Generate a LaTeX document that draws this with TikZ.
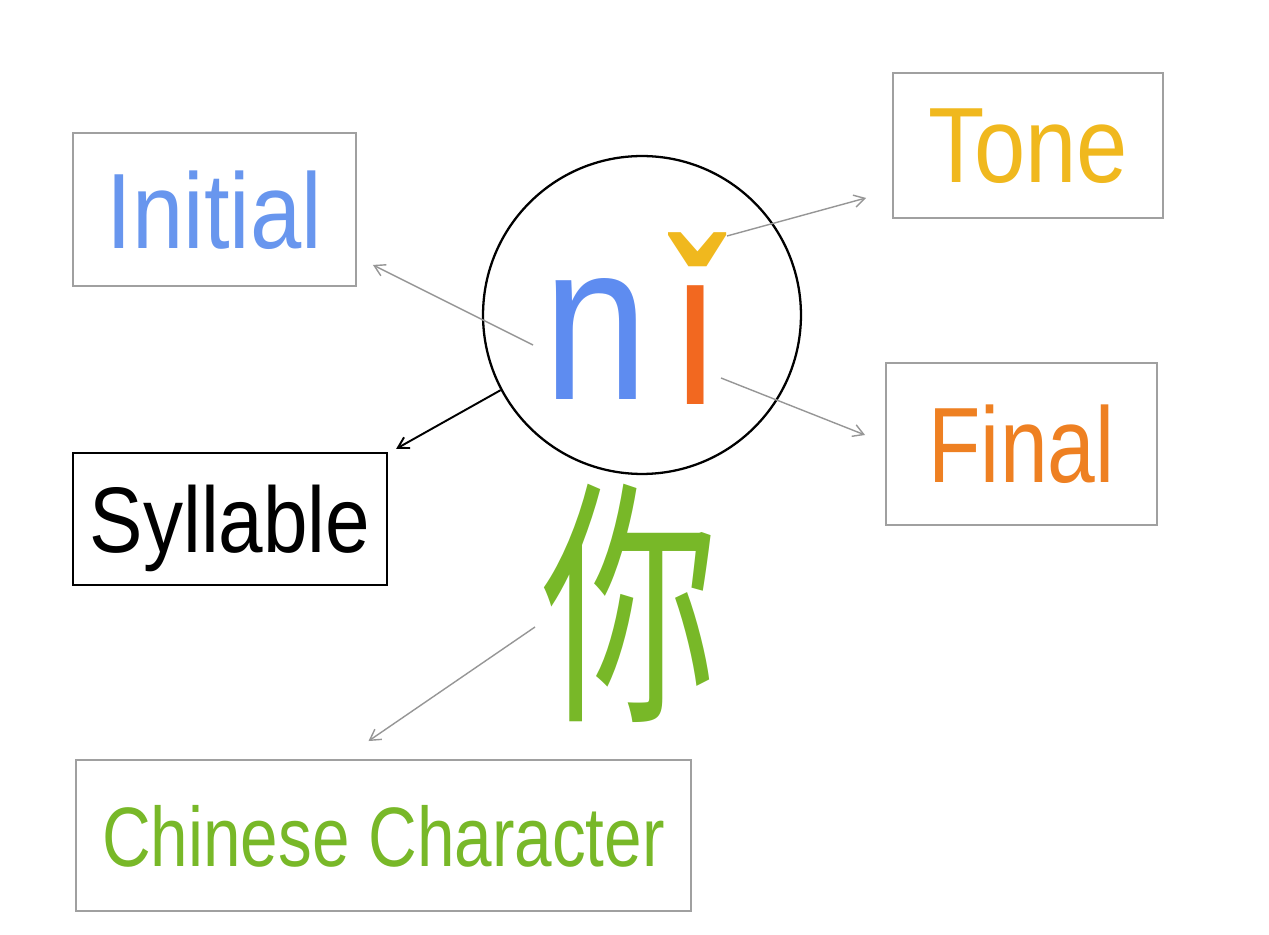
\documentclass[tikz,border=0pt]{standalone}
\usepackage{fontspec}
\usepackage{tikz}
\usetikzlibrary{arrows.meta}

\newfontfamily\narrowfont{Liberation Sans}[FakeStretch=0.8]
\newfontfamily\widefont{Liberation Sans}[FakeStretch=0.86]
\newfontfamily\letterfont{Liberation Sans}[FakeStretch=0.84]
\newfontfamily\cjkfont{Noto Sans CJK SC}[FakeStretch=0.68]

\definecolor{initialblue}{RGB}{104,150,238}
\definecolor{nblue}{RGB}{94,140,240}
\definecolor{tonegold}{RGB}{240,184,30}
\definecolor{finalorange}{RGB}{238,128,34}
\definecolor{iorange}{RGB}{242,104,32}
\definecolor{hanzigreen}{RGB}{120,184,40}
\definecolor{boxgray}{RGB}{160,160,160}
\definecolor{arrowgray}{RGB}{150,150,150}

\tikzset{
  labelbox/.style={draw=boxgray, line width=1.1pt, text depth=0pt, inner sep=0pt},
  pointer/.style={draw=arrowgray, line width=0.8pt, ->},
  bigletter/.style={anchor=base, inner sep=0pt, font=\letterfont\fontsize{128}{128}\selectfont}
}

\begin{document}
\begin{tikzpicture}[x=0.02cm, y=-0.02cm, >={Straight Barb[length=6pt,width=7pt]}]
    \useasboundingbox (0,0) rectangle (1269,935);

    % the syllable in its ring
    \node[draw, circle, line width=1.3pt, minimum size=6.36cm] (ring) at (642,315) {};
    \node[bigletter, text=nblue] (n) at (596,400) {n};
    \node[bigletter, text=iorange] (istem) at (696,405) {ı};
    \node[bigletter, text=tonegold, font=\narrowfont\bfseries\fontsize{115}{115}\selectfont] (caron) at (695,384) {ˇ};
    \node[text=hanzigreen, font=\cjkfont\fontsize{148}{148}\selectfont] (hanzi) at (630,603) {你};

    % boxes
    \node[labelbox, minimum width=5.66cm, minimum height=3.06cm, text=initialblue,
          font=\widefont\fontsize{61}{61}\selectfont] (initial) at (214.5,209.5) {Initial};
    \node[labelbox, minimum width=5.4cm, minimum height=2.9cm, text=tonegold,
          font=\widefont\fontsize{61}{61}\selectfont] (tone) at (1028,145.5) {Tone};
    \node[labelbox, minimum width=5.42cm, minimum height=3.24cm, text=finalorange,
          font=\narrowfont\fontsize{61}{61}\selectfont] (final) at (1021.5,444) {Final};
    \node[labelbox, draw=black, line width=1.4pt, minimum width=6.28cm, minimum height=2.64cm,
          font=\widefont\fontsize{53}{53}\selectfont] (syllable) at (230,519) {Syllable};
    \node[labelbox, minimum width=12.3cm, minimum height=3.02cm, text=hanzigreen,
          font=\narrowfont\fontsize{48}{48}\selectfont] (chinese) at (383.5,835.5) {Chinese Character};

    % arrow tails
    \coordinate (n tail) at (533,345);
    \coordinate (tone tail) at (727,236);
    \coordinate (final tail) at (721,378);
    \coordinate (hanzi tail) at (535,627);

    \draw[pointer] (n tail) -- ([shift={(16,-22)}]initial.south east);
    \draw[pointer] (tone tail) -- ([shift={(-26,-21)}]tone.south west);
    \draw[pointer] (final tail) -- ([shift={(-20,-9)}]final.west);
    \draw[pointer, draw=black, line width=1.1pt] (ring.208) -- ([shift={(8,-3)}]syllable.north east);
    \draw[pointer] (hanzi tail) -- ([shift={(-15,-18)}]chinese.north);
\end{tikzpicture}
\end{document}
